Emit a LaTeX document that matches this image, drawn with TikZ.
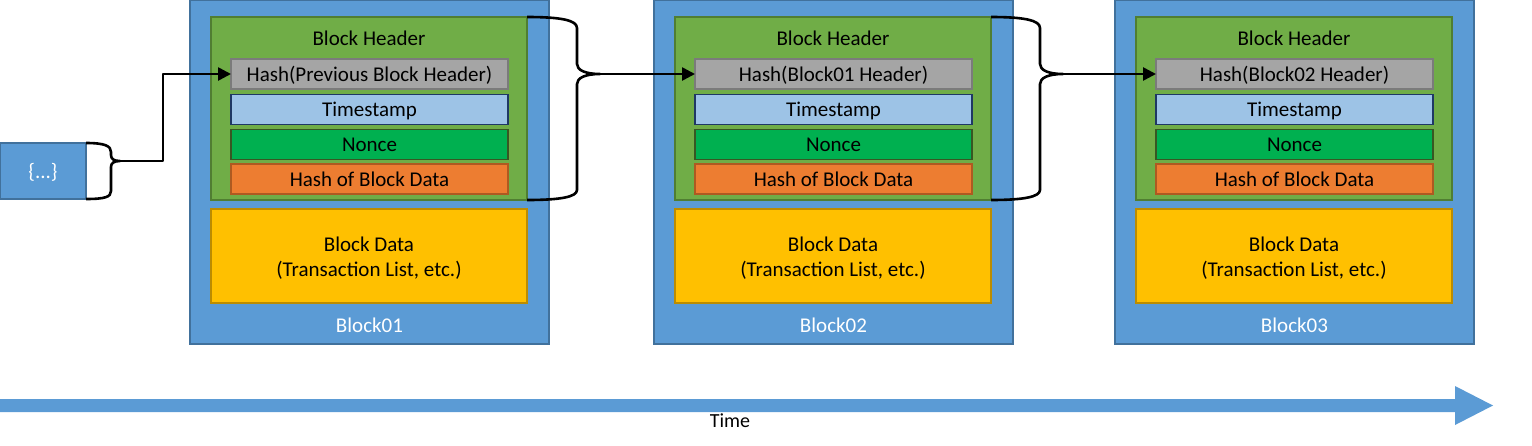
\documentclass[tikz,border=0pt]{standalone}
\usepackage{fontspec}
\setmainfont{Carlito}
\usetikzlibrary{arrows.meta}
\definecolor{outerblue}{HTML}{5B9BD5}
\definecolor{outerline}{HTML}{41719C}
\definecolor{hdrgreen}{HTML}{70AD47}
\definecolor{hdrline}{HTML}{507E32}
\definecolor{hgray}{HTML}{A5A5A5}
\definecolor{hgrayline}{HTML}{7B7B7B}
\definecolor{tsblue}{HTML}{9DC3E6}
\definecolor{tsline}{HTML}{1F3864}
\definecolor{ncgreen}{HTML}{00B050}
\definecolor{ncline}{HTML}{385723}
\definecolor{hdorange}{HTML}{ED7D31}
\definecolor{hdline}{HTML}{AE5A21}
\definecolor{dyellow}{HTML}{FFC000}
\definecolor{dline}{HTML}{BC8C00}
\tikzset{
  box/.style={rectangle, inner sep=0pt, outer sep=0pt, line width=1.5pt, font=\fontsize{21}{25}\selectfont, text height=16pt, text depth=2pt},
  outerbox/.style={box, fill=outerblue, draw=outerline, minimum width=359pt, minimum height=344pt},
  hdrbox/.style={box, fill=hdrgreen, draw=hdrline, minimum width=316pt, minimum height=183pt},
  field/.style={box, minimum width=277pt, minimum height=30pt},
  databox/.style={box, fill=dyellow, draw=dline, minimum width=316pt, minimum height=94pt},
  lbl/.style={inner sep=0pt, font=\fontsize{21}{25}\selectfont, text height=16pt, text depth=2pt},
  conn/.style={line width=2.6pt, line join=round},
  arr/.style={conn, -{Triangle[length=13pt,width=13pt]}}
}
\begin{document}
\begin{tikzpicture}[x=1pt,y=-1pt]
\useasboundingbox (0,0) rectangle (1532,445);
\foreach \x/\n/\h in {190/1/Previous Block Header, 654/2/Block01 Header, 1115/3/Block02 Header}{
  \node[outerbox] (b\n) at (\x+179.5,172) {};
  \node[hdrbox] (h\n) at (\x+179,108.5) {};
  \node[lbl] (ht\n) at (\x+179,38) {Block Header};
  \node[field, fill=hgray, draw=hgrayline] (p\n) at (\x+179.5,74) {Hash(\h)};
  \node[field, fill=tsblue, draw=tsline] (t\n) at (\x+179.5,109.5) {Timestamp};
  \node[field, fill=ncgreen, draw=ncline] (n\n) at (\x+179.5,144.5) {Nonce};
  \node[field, fill=hdorange, draw=hdline] (d\n) at (\x+179.5,179) {Hash of Block Data};
  \node[databox] (bd\n) at (\x+179,256) {};
  \node[lbl] (bda\n) at (\x+179,244) {Block Data};
  \node[lbl] (bdb\n) at (\x+179,269) {(Transaction List, etc.)};
  \node[lbl, text=white] (bl\n) at (\x+179.5,325) {Block0\n};
}
% genesis placeholder
\node[box, fill=outerblue, draw=outerline, minimum width=86pt, minimum height=56pt, text=white] (g) at (43,171) {\{...\}};
% brace from placeholder
\coordinate (gtip) at (120,161);
\coordinate (gbend) at (163,161);
\draw[conn] (g.north east) .. controls (105,143) and (111,146) .. (111,152) -- (111,155) .. controls (111,159) and (114,161) .. (gtip)
            .. controls (114,161) and (111,163) .. (111,167) -- (111,191) .. controls (111,197) and (105,199) .. (g.south east);
\draw[arr] (gtip) -- (gbend) |- (p1.west);
% brace from block01 header to block02
\coordinate (tip1) at (600,74);
\draw[conn] (h1.north east) .. controls (560,17) and (577,20) .. (577,28) -- (577,64) .. controls (577,70) and (585,74) .. (tip1)
            .. controls (585,74) and (577,78) .. (577,84) -- (577,190) .. controls (577,197) and (560,200) .. (h1.south east);
\draw[arr] (tip1) -- (p2.west);
% brace from block02 header to block03
\coordinate (tip2) at (1063,74);
\draw[conn] (h2.north east) .. controls (1023,17) and (1040,20) .. (1040,28) -- (1040,64) .. controls (1040,70) and (1048,74) .. (tip2)
            .. controls (1048,74) and (1040,78) .. (1040,84) -- (1040,190) .. controls (1040,197) and (1023,200) .. (h2.south east);
\draw[arr] (tip2) -- (p3.west);
% time arrow
\fill[outerblue] (0,399) -- (1455,399) -- (1455,386) -- (1493,405.5) -- (1455,425) -- (1455,412) -- (0,412) -- cycle;
\node[lbl, font=\fontsize{20}{24}\selectfont] (time) at (730,420) {Time};
\end{tikzpicture}
\end{document}
